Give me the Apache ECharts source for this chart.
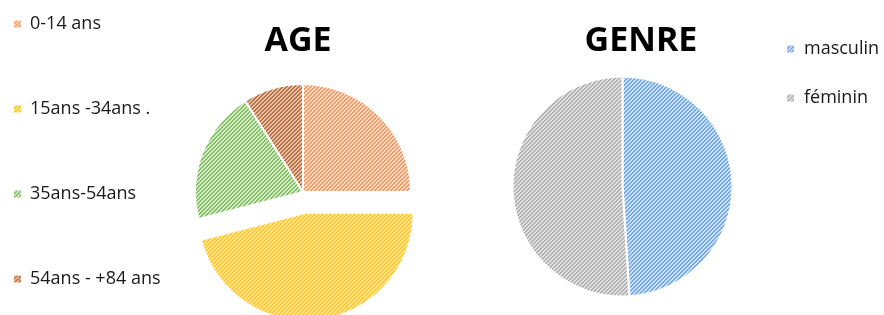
<!DOCTYPE html>
<html><head><meta charset="utf-8">
<script src="https://cdn.jsdelivr.net/npm/echarts@6/dist/echarts.min.js"></script>
<style>html,body{margin:0;padding:0;background:#fff}#c{width:884px;height:315px}</style>
</head><body><div id="c"></div>
<script>
const ageCategories = ['0-14 ans', '15ans -34ans .', '35ans-54ans', '54ans - +84 ans'];
const ageValues = [25, 46, 20, 9];
const genreCategories = ['masculin', 'féminin'];
const genreValues = [49, 51];
const titles = ['AGE', 'GENRE'];

function hatch(dark, light) {
  const c = document.createElement('canvas');
  c.width = 4; c.height = 4;
  const ctx = c.getContext('2d');
  ctx.fillStyle = light; ctx.fillRect(0, 0, 4, 4);
  ctx.fillStyle = dark;
  for (let y = 0; y < 4; y++) for (let x = 0; x < 4; x++) {
    const k = (x + y) % 4;
    if (k === 0 || k === 1) ctx.fillRect(x, y, 1, 1);
  }
  return { image: c, repeat: 'repeat' };
}
const agePatterns = [
  hatch('#F09A66', '#FBDCC7'),
  hatch('#FFC31A', '#FFEAA6'),
  hatch('#86C066', '#D5EAC7'),
  hatch('#BB7146', '#E8C2A8')
];
const genrePatterns = [
  hatch('#76AAE2', '#CCE1F6'),
  hatch('#B0B0B0', '#E2E2E2')
];

const chart = echarts.init(document.getElementById('c'), null, { renderer: 'canvas' });
const font = '"Open Sans", "Liberation Sans", sans-serif';
chart.setOption({
  animation: false,
  title: [
    { text: titles[0], left: 293, top: 19, textAlign: 'center',
      textStyle: { fontFamily: font, fontWeight: 'bold', fontSize: 34, color: '#000' } },
    { text: titles[1], left: 636, top: 19, textAlign: 'center',
      textStyle: { fontFamily: font, fontWeight: 'bold', fontSize: 34, color: '#000' } }
  ],
  legend: [
    { orient: 'vertical', left: 12, top: 13, padding: 0, itemWidth: 9, itemHeight: 9, itemGap: 63,
      icon: 'rect', selectedMode: false, data: ageCategories,
      textStyle: { fontFamily: font, fontSize: 18, color: '#1a1a1a', lineHeight: 22, padding: [0, 0, 0, 3] } },
    { orient: 'vertical', left: 785, top: 38, padding: 0, itemWidth: 9, itemHeight: 9, itemGap: 27,
      icon: 'rect', selectedMode: false, data: genreCategories,
      textStyle: { fontFamily: font, fontSize: 18, color: '#1a1a1a', lineHeight: 22, padding: [0, 0, 0, 4] } }
  ],
  series: [
    {
      type: 'pie', center: [303, 192], radius: 108, startAngle: 90, clockwise: true,
      selectedMode: 'single', selectedOffset: 21, silent: true,
      label: { show: false }, labelLine: { show: false },
      itemStyle: { borderColor: '#fff', borderWidth: 2 },
      data: ageCategories.map((n, i) => ({ name: n, value: ageValues[i], selected: i === 1,
        itemStyle: { color: agePatterns[i] } }))
    },
    {
      type: 'pie', center: [622.5, 186.5], radius: 110, startAngle: 90, clockwise: true,
      silent: true, label: { show: false }, labelLine: { show: false },
      itemStyle: { borderColor: '#fff', borderWidth: 2 },
      data: genreCategories.map((n, i) => ({ name: n, value: genreValues[i],
        itemStyle: { color: genrePatterns[i] } }))
    }
  ]
});
</script></body></html>
